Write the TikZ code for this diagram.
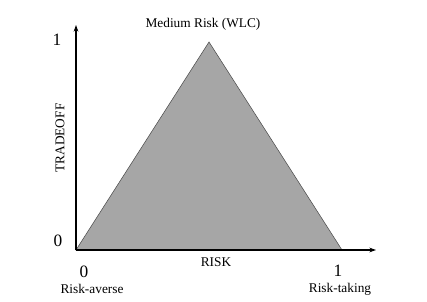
\documentclass[tikz,border=0pt]{standalone}
\usepackage{fontspec}
\setmainfont{Liberation Serif}
\usetikzlibrary{arrows.meta}
\usepackage{xcolor}
\definecolor{areagray}{HTML}{A6A6A6}

\begin{document}
\begin{tikzpicture}[x=0.75pt,y=0.75pt,>={Stealth[length=5pt,width=3.5pt]},font=\fontsize{10}{12}\selectfont,line cap=round]
\useasboundingbox (0,0) rectangle (427,302);
\coordinate (O) at (76,52);
\coordinate (ytop) at (76,277);
\coordinate (xend) at (376,52);
\coordinate (apex) at (209,260);
\coordinate (right) at (342,52);
% shaded area
\filldraw[fill=areagray,draw=black!70,line width=0.4pt] (O) -- (apex) -- (right) -- cycle;
% axes
\draw[->,line width=1.4pt,line cap=butt] (O) -- (ytop);
\draw[->,line width=1.4pt,line cap=butt] (O) -- (xend);
\node (top) at (203,278) {Medium Risk (WLC)};
\node[rotate=90] (yname) at (60,164) {TRADEOFF};
\node (xname) at (216,40) {RISK};
\node[font=\fontsize{13}{15}\selectfont] (yone) at (57,262) {1};
\node[font=\fontsize{13}{15}\selectfont] (yzero) at (58,61) {0};
\node[font=\fontsize{13}{15}\selectfont] (xzero) at (84,30) {0};
\node[font=\fontsize{13}{15}\selectfont] (xone) at (338,31) {1};
\node (averse) at (92,13) {Risk-averse};
\node (taking) at (340,13) {Risk-taking};
\end{tikzpicture}
\end{document}
